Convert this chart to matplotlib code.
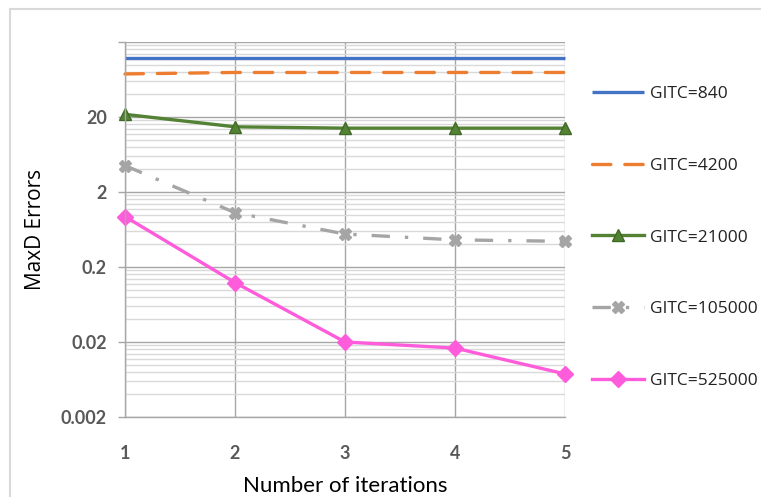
import matplotlib
matplotlib.use("Agg")
import matplotlib.pyplot as plt
from matplotlib.ticker import FixedLocator, NullFormatter, FixedFormatter
from matplotlib.patches import Rectangle
from matplotlib.font_manager import FontProperties

# Convergence of the MaxD error for different GITC settings
iterations = [1, 2, 3, 4, 5]
series_labels = ["GITC=840", "GITC=4200", "GITC=21000", "GITC=105000", "GITC=525000"]
err_840 = [121, 121, 121, 121, 121]
err_4200 = [75, 78.5, 78.5, 78.5, 78.5]
err_21000 = [21.7, 14.8, 14.2, 14.2, 14.2]
err_105000 = [4.5, 1.06, 0.55, 0.46, 0.44]
err_525000 = [0.94, 0.124, 0.020, 0.0166, 0.0075]

y_major = [0.002, 0.02, 0.2, 2, 20, 200]
y_major_labels = ["0.002", "0.02", "0.2", "2", "20", ""]

W, H = 761, 497
fig = plt.figure(figsize=(W / 100, H / 100), dpi=100)
ax = fig.add_axes([125 / W, 1 - 417 / H, (565 - 125) / W, (417 - 42) / H])

ax.set_yscale("log")
ax.set_ylim(0.002, 200)
ax.set_xlim(1, 5)

# minor gridlines at every multiple of the decade base (0.002 * k)
minor = []
for base in y_major[:-1]:
    for k in range(2, 10):
        minor.append(base * k)
ax.yaxis.set_major_locator(FixedLocator(y_major))
ax.yaxis.set_major_formatter(FixedFormatter(y_major_labels))
ax.yaxis.set_minor_locator(FixedLocator(minor))
ax.yaxis.set_minor_formatter(NullFormatter())
ax.xaxis.set_major_locator(FixedLocator(iterations))
ax.set_xticklabels([str(i) for i in iterations])

ax.grid(True, which="major", axis="y", color="#A6A6A6", linewidth=1.0, zorder=0)
ax.grid(True, which="minor", axis="y", color="#D9D9D9", linewidth=1.0, zorder=0)
ax.grid(True, which="major", axis="x", color="#A6A6A6", linewidth=1.0, zorder=0)
ax.set_axisbelow(True)

for s in ["top", "right"]:
    ax.spines[s].set_visible(False)
ax.spines["left"].set_color("#A6A6A6")
ax.spines["bottom"].set_color("#A6A6A6")
ax.spines["left"].set_linewidth(1.0)
ax.spines["bottom"].set_linewidth(1.0)

tick_font = FontProperties(family="Lato", weight="bold", size=13)
ax.tick_params(axis="y", which="major", length=5, width=1, color="#A6A6A6",
               pad=8, labelcolor="#595959")
ax.tick_params(axis="y", which="minor", length=0)
ax.tick_params(axis="x", which="major", length=0, pad=20, labelcolor="#595959")
for lab in ax.get_yticklabels() + ax.get_xticklabels():
    lab.set_fontproperties(tick_font)

ax.set_xlabel("Number of iterations", family="Lato", size=16, color="#000000", labelpad=10)
ax.set_ylabel("MaxD Errors", family="Open Sans", size=15, color="#000000", labelpad=11)

lw = 2.4
h1, = ax.plot(iterations, err_840, color="#4472C4", lw=lw, solid_capstyle="butt")
h2, = ax.plot(iterations, err_4200, color="#ED7D31", lw=lw, dashes=(5.5, 4.2),
              dash_capstyle="round")
h3, = ax.plot(iterations, err_21000, color="#548235", lw=lw, marker="^", ms=8,
              mfc="#548235", mec="#3F6A25")
h4, = ax.plot(iterations, err_105000, color="#A5A5A5", lw=lw, dashes=(5.5, 4.5, 1, 4.5),
              marker="X", ms=8, mfc="#A5A5A5", mec="#A5A5A5")
h5, = ax.plot(iterations, err_525000, color="#FF5CDB", lw=lw, marker="D", ms=8,
              mfc="#FF5CDB", mec="#FF5CDB")
for h in (h1, h2, h3, h4, h5):
    h.set_clip_on(False)

leg = fig.legend([h1, h2, h3, h4, h5], series_labels, loc="upper left",
                 bbox_to_anchor=(592 / W, 1 - 86 / H), frameon=False,
                 prop=dict(family="Open Sans", size=12.5), labelspacing=3.2,
                 handlelength=3.0, handletextpad=0.35, borderaxespad=0,
                 borderpad=0, markerscale=1.0)
for t in leg.get_texts():
    t.set_color("#222222")

# light frame around the chart area
fig.patches.append(Rectangle((10 / W, -0.1), 1.2, 1.1 - 9 / H, transform=fig.transFigure,
                             fill=False, edgecolor="#D9D9D9", linewidth=1.5))

fig.savefig("out.png", dpi=100)
